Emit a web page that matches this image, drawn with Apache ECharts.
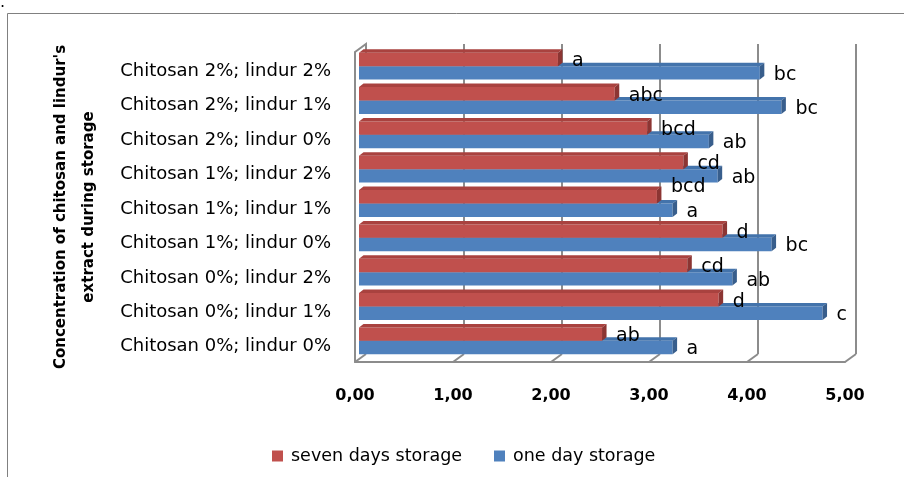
<!DOCTYPE html>
<html>
<head>
<meta charset="utf-8">
<script src="https://cdn.jsdelivr.net/npm/echarts@6/dist/echarts.min.js"></script>
<style>
  html, body { margin: 0; padding: 0; background: #ffffff; }
  #chart { width: 904px; height: 477px; }
</style>
</head>
<body>
<div id="chart"></div>
<script>
// Treatments, listed from the bottom row of the chart to the top row
const categories = [
  'Chitosan 0%; lindur 0%',
  'Chitosan 0%; lindur 1%',
  'Chitosan 0%; lindur 2%',
  'Chitosan 1%; lindur 0%',
  'Chitosan 1%; lindur 1%',
  'Chitosan 1%; lindur 2%',
  'Chitosan 2%; lindur 0%',
  'Chitosan 2%; lindur 1%',
  'Chitosan 2%; lindur 2%'
];
const sevenDays = [2.48, 3.67, 3.35, 3.71, 3.04, 3.31, 2.94, 2.61, 2.03];
const oneDay    = [3.20, 4.73, 3.81, 4.21, 3.20, 3.66, 3.57, 4.31, 4.09];
// Significance letters shown beside each bar
const sevenDaysLetters = ['ab', 'd', 'cd', 'd', 'bcd', 'cd', 'bcd', 'abc', 'a'];
const oneDayLetters    = ['a', 'c', 'ab', 'bc', 'a', 'ab', 'ab', 'bc', 'bc'];
const xTickLabels = ['0,00', '1,00', '2,00', '3,00', '4,00', '5,00'];
const seriesNames = ['seven days storage', 'one day storage'];
const axisTitle = "Concentration of chitosan and lindur's\nextract during storage";

const FONT = '"DejaVu Sans", Verdana, sans-serif';
const GRID_GREY = '#8c8c8c';
// depth offsets of the pseudo-3D box and of the bars
const WALL_DX = 11, WALL_DY = 8;
const BAR_DX = 4.5, BAR_DY = 3.5;

const redFaces  = { front: '#C0504D', top: '#A9423F', side: '#8C3533' };
const blueFaces = { front: '#4F81BD', top: '#4373AB', side: '#385E8C' };
// the "bcd" label of Chitosan 1%; lindur 1% sits higher to clear the blue label below it
const sevenDaysLabelLift = { 4: -12 };

function barRenderer(slot, letters, faces, lift) {
  return function (params, api) {
    const i = params.dataIndex;
    const cat = api.value(1);
    const base = api.coord([0, cat]);
    const tip = api.coord([api.value(0), cat]);
    const band = api.size([0, 1])[1];
    const h = band * 0.39;
    const x0 = base[0], x1 = tip[0];
    const y0 = slot === 0 ? tip[1] - h : tip[1];
    const y1 = y0 + h;
    return {
      type: 'group',
      children: [
        { type: 'rect', shape: { x: x0, y: y0, width: x1 - x0, height: h },
          style: { fill: faces.front } },
        { type: 'polygon', shape: { points: [[x0, y0], [x1, y0], [x1 + BAR_DX, y0 - BAR_DY], [x0 + BAR_DX, y0 - BAR_DY]] },
          style: { fill: faces.top } },
        { type: 'polygon', shape: { points: [[x1, y0], [x1 + BAR_DX, y0 - BAR_DY], [x1 + BAR_DX, y1 - BAR_DY], [x1, y1]] },
          style: { fill: faces.side } },
        { type: 'text', x: x1 + 14, y: (y0 + y1) / 2 + 2 + (lift[i] || 0),
          style: { text: letters[i], fill: '#000000', font: '19px ' + FONT, align: 'left', verticalAlign: 'middle' } }
      ]
    };
  };
}

// Slanted floor ticks and the top edge of the side wall
function frameRenderer(params, api) {
  const kind = api.value(2);
  const p = api.coord([api.value(0), api.value(1)]);
  const pts = kind === 1
    ? [[p[0], p[1]], [p[0] + WALL_DX, p[1] - WALL_DY], [p[0] + WALL_DX, p[1] + 2]]
    : [[p[0], p[1]], [p[0] + WALL_DX, p[1] - WALL_DY]];
  return { type: 'polyline', shape: { points: pts }, style: { stroke: GRID_GREY, lineWidth: 2, fill: null } };
}

const chart = echarts.init(document.getElementById('chart'));

chart.setOption({
  animation: false,
  backgroundColor: '#ffffff',
  graphic: [
    { type: 'rect', shape: { x: 7.5, y: 13.5, width: 900, height: 470 },
      style: { fill: null, stroke: '#808080', lineWidth: 1 } },
    { type: 'text', left: 0, top: -5, style: { text: '.', font: '16px ' + FONT, fill: '#000' } }
  ],
  legend: {
    data: seriesNames,
    left: 267, top: 442,
    icon: 'rect', itemWidth: 11, itemHeight: 11, itemGap: 32,
    textStyle: { fontFamily: FONT, fontSize: 17.5, color: '#000000', padding: [0, 0, 0, 3] }
  },
  grid: [
    // back wall
    { left: 366, top: 44, width: 490, height: 310, outerBoundsMode: 'none' },
    // front edges, value labels and axis title
    { left: 355, top: 52, width: 490, height: 310, outerBoundsMode: 'none' },
    // category labels
    { left: 355, top: 54, width: 490, height: 310, outerBoundsMode: 'none' },
    // bars
    { left: 359, top: 49, width: 490, height: 309, outerBoundsMode: 'none' }
  ],
  xAxis: [
    { gridIndex: 0, type: 'value', min: 0, max: 5, interval: 1,
      axisLine: { show: false }, axisTick: { show: false }, axisLabel: { show: false },
      splitLine: { show: true, showMinLine: false, lineStyle: { color: GRID_GREY, width: 2 } } },
    { gridIndex: 1, type: 'value', min: 0, max: 5, interval: 1,
      axisLine: { show: true, lineStyle: { color: GRID_GREY, width: 2 } },
      axisTick: { show: false }, splitLine: { show: false },
      axisLabel: { margin: 26, color: '#000000', fontFamily: FONT, fontSize: 16, fontWeight: 600,
        formatter: function (v) { return xTickLabels[Math.round(v)]; } } },
    { gridIndex: 2, type: 'value', min: 0, max: 5, show: false },
    { gridIndex: 3, type: 'value', min: 0, max: 5, show: false }
  ],
  yAxis: [
    { gridIndex: 0, type: 'category', data: categories, show: false },
    { gridIndex: 1, type: 'value', min: 0, max: 1,
      axisLine: { show: true, lineStyle: { color: GRID_GREY, width: 2 } },
      axisTick: { show: false }, axisLabel: { show: false }, splitLine: { show: false },
      name: axisTitle, nameLocation: 'middle', nameRotate: 90, nameGap: 252,
      nameTextStyle: { fontFamily: FONT, fontSize: 15, fontWeight: 'bold', color: '#000000', lineHeight: 28, align: 'center' } },
    { gridIndex: 2, type: 'category', data: categories,
      axisLine: { show: false }, axisTick: { show: false }, splitLine: { show: false },
      axisLabel: { margin: 24, color: '#000000', fontFamily: FONT, fontSize: 18 } },
    { gridIndex: 3, type: 'category', data: categories, show: false }
  ],
  series: [
    { type: 'custom', name: 'frame', xAxisIndex: 1, yAxisIndex: 1, z: 1, silent: true,
      data: [[0, 0, 0], [1, 0, 0], [2, 0, 0], [3, 0, 0], [4, 0, 0], [5, 0, 0], [0, 1, 1]],
      renderItem: frameRenderer },
    { type: 'custom', name: seriesNames[1], xAxisIndex: 3, yAxisIndex: 3, z: 2, clip: false,
      itemStyle: { color: blueFaces.front },
      data: oneDay.map(function (v, i) { return [v, i]; }),
      encode: { x: 0, y: 1 },
      renderItem: barRenderer(1, oneDayLetters, blueFaces, {}) },
    { type: 'custom', name: seriesNames[0], xAxisIndex: 3, yAxisIndex: 3, z: 3, clip: false,
      itemStyle: { color: redFaces.front },
      data: sevenDays.map(function (v, i) { return [v, i]; }),
      encode: { x: 0, y: 1 },
      renderItem: barRenderer(0, sevenDaysLetters, redFaces, sevenDaysLabelLift) }
  ]
});
</script>
</body>
</html>
